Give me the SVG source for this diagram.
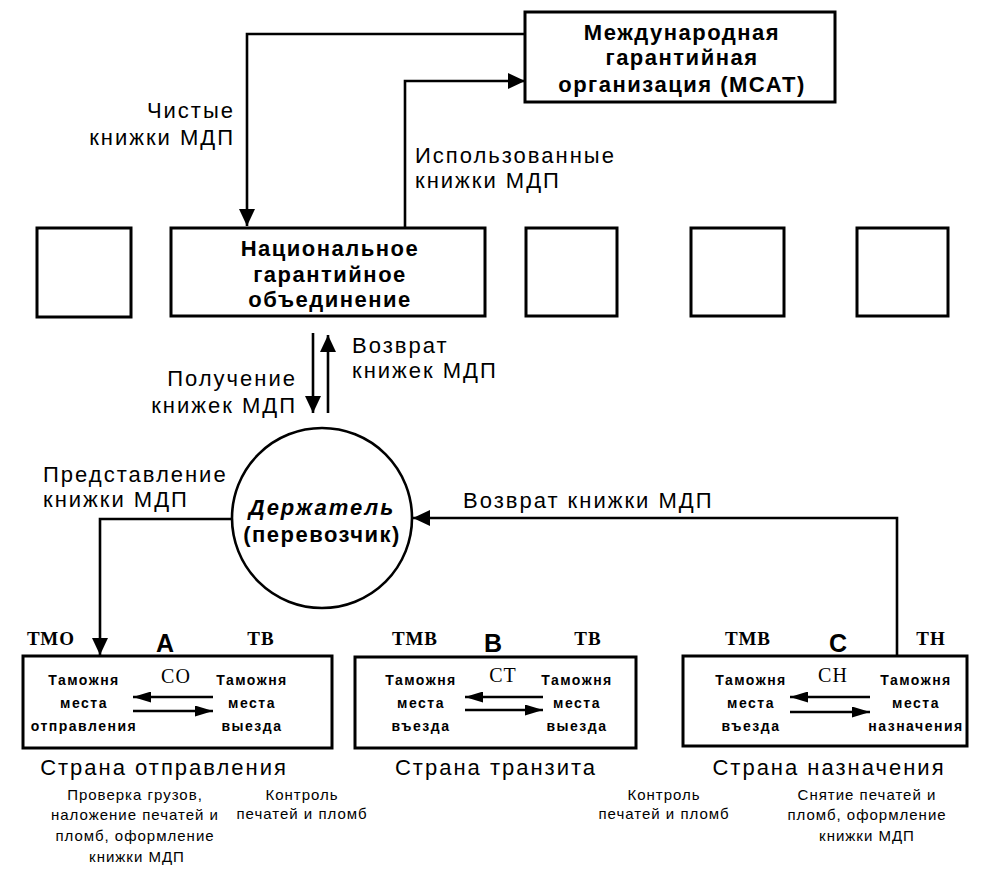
<svg xmlns="http://www.w3.org/2000/svg" width="998" height="871" viewBox="0 0 998 871">
<defs>
<style>
.box{fill:#fff;stroke:#000;stroke-width:3}
.ln{fill:none;stroke:#000;stroke-width:2.6}
.t22{font-family:"Liberation Sans",Arial,sans-serif;font-size:22px;letter-spacing:2px;fill:#000}
.b22{font-family:"Liberation Sans",Arial,sans-serif;font-size:22px;font-weight:bold;letter-spacing:1.5px;fill:#000}
.bi22{font-family:"Liberation Sans",Arial,sans-serif;font-size:22px;font-weight:bold;font-style:italic;letter-spacing:2px;fill:#000}
.s15{font-family:"Liberation Sans",Arial,sans-serif;font-size:15px;letter-spacing:1px;fill:#000}
.in14{font-family:"Liberation Sans",Arial,sans-serif;font-size:14px;font-weight:bold;letter-spacing:1.5px;fill:#000}
.ser{font-family:"Liberation Serif","Times New Roman",serif;font-size:19px;font-weight:bold;letter-spacing:1px;fill:#000}
.ser2{font-family:"Liberation Serif","Times New Roman",serif;font-size:20px;letter-spacing:1px;fill:#000}
.let{font-family:"Liberation Sans",Arial,sans-serif;font-size:25px;font-weight:bold;fill:#000}
.m{text-anchor:middle}
.e{text-anchor:end}
</style>
<marker id="ah" markerUnits="userSpaceOnUse" markerWidth="17" markerHeight="16" refX="17" refY="8" orient="auto"><path d="M0,0 L17,8 L0,16 z" fill="#000"/></marker>
<marker id="ahs" markerUnits="userSpaceOnUse" markerWidth="18" markerHeight="11" refX="18" refY="5.5" orient="auto"><path d="M0,0 L18,5.5 L0,11 z" fill="#000"/></marker>
</defs>
<rect width="998" height="871" fill="#fff"/>

<g id="mcat">
<rect class="box" x="525" y="12" width="310" height="90"/>
<text class="b22 m" x="682" y="40">Международная</text>
<text class="b22 m" x="682" y="65">гарантийная</text>
<text class="b22 m" x="682" y="92">организация (МСАТ)</text>
</g>

<g id="ngo">
<rect class="box" x="171" y="228" width="314" height="88"/>
<text class="b22 m" x="330" y="256">Национальное</text>
<text class="b22 m" x="330" y="282">гарантийное</text>
<text class="b22 m" x="330" y="307">объединение</text>
</g>

<g id="ngo-other-1"><rect class="box" x="37" y="228" width="94" height="89"/></g>
<g id="ngo-other-2"><rect class="box" x="526" y="228" width="91" height="88"/></g>
<g id="ngo-other-3"><rect class="box" x="691" y="228" width="93" height="88"/></g>
<g id="ngo-other-4"><rect class="box" x="857" y="228" width="91" height="88"/></g>

<g id="holder">
<circle cx="322" cy="518" r="90" fill="#fff" stroke="#000" stroke-width="2.6"/>
<text class="bi22 m" x="322" y="515">Держатель</text>
<text class="b22 m" x="322" y="542">(перевозчик)</text>
</g>

<g id="country-a">
<rect class="box" x="23" y="656" width="309" height="92"/>
<text class="ser m" x="51" y="645">ТМО</text>
<text class="let m" x="165" y="652">А</text>
<text class="ser m" x="261" y="645">ТВ</text>
<text class="ser2 m" x="176" y="683">СО</text>
<text class="in14 m" x="84" y="685">Таможня</text>
<text class="in14 m" x="84" y="708">места</text>
<text class="in14 m" x="84" y="731">отправления</text>
<text class="in14 m" x="252" y="685">Таможня</text>
<text class="in14 m" x="252" y="708">места</text>
<text class="in14 m" x="252" y="731">выезда</text>
<text class="t22 m" x="164" y="775">Страна отправления</text>
</g>

<g id="country-b">
<rect class="box" x="355" y="657" width="281" height="91"/>
<text class="ser m" x="415" y="645">ТМВ</text>
<text class="let m" x="493" y="652">В</text>
<text class="ser m" x="588" y="645">ТВ</text>
<text class="ser2 m" x="503" y="682">СТ</text>
<text class="in14 m" x="421" y="685">Таможня</text>
<text class="in14 m" x="421" y="708">места</text>
<text class="in14 m" x="421" y="731">въезда</text>
<text class="in14 m" x="577" y="685">Таможня</text>
<text class="in14 m" x="577" y="708">места</text>
<text class="in14 m" x="577" y="731">выезда</text>
<text class="t22 m" x="496" y="775">Страна транзита</text>
</g>

<g id="country-c">
<rect class="box" x="683" y="656" width="284" height="90"/>
<text class="ser m" x="748" y="645">ТМВ</text>
<text class="let m" x="838" y="652">С</text>
<text class="ser m" x="931" y="645">ТН</text>
<text class="ser2 m" x="833" y="682">СН</text>
<text class="in14 m" x="751" y="685">Таможня</text>
<text class="in14 m" x="751" y="708">места</text>
<text class="in14 m" x="751" y="731">въезда</text>
<text class="in14 m" x="916" y="685">Таможня</text>
<text class="in14 m" x="916" y="708">места</text>
<text class="in14 m" x="916" y="731">назначения</text>
<text class="t22 m" x="829" y="775">Страна назначения</text>
</g>

<g id="connectors">
<path class="ln" d="M525,34 H247 V226" marker-end="url(#ah)"/>
<path class="ln" d="M405,228 V81 H525" marker-end="url(#ah)"/>
<path class="ln" d="M313,333 V413" marker-end="url(#ah)"/>
<path class="ln" d="M328,413 V335" marker-end="url(#ah)"/>
<path class="ln" d="M232,519 H100 V655" marker-end="url(#ah)"/>
<path class="ln" d="M897,656 V518 H413" marker-end="url(#ah)"/>
<path class="ln" stroke-width="3" d="M213,697 H133" marker-end="url(#ahs)"/>
<path class="ln" stroke-width="3" d="M133,711 H213" marker-end="url(#ahs)"/>
<path class="ln" stroke-width="3" d="M543,697 H465" marker-end="url(#ahs)"/>
<path class="ln" stroke-width="3" d="M465,710 H543" marker-end="url(#ahs)"/>
<path class="ln" stroke-width="3" d="M870,697 H790" marker-end="url(#ahs)"/>
<path class="ln" stroke-width="3" d="M790,712 H870" marker-end="url(#ahs)"/>
</g>

<g id="labels">
<text class="t22 e" x="235" y="118">Чистые</text>
<text class="t22 e" x="235" y="145">книжки МДП</text>
<text class="t22" x="415" y="163">Использованные</text>
<text class="t22" x="415" y="188">книжки МДП</text>
<text class="t22" x="352" y="353">Возврат</text>
<text class="t22" x="352" y="378">книжек МДП</text>
<text class="t22 e" x="297" y="386">Получение</text>
<text class="t22 e" x="297" y="413">книжек МДП</text>
<text class="t22" x="43" y="482">Представление</text>
<text class="t22" x="43" y="507">книжки МДП</text>
<text class="t22" x="463" y="508">Возврат книжки МДП</text>
<text class="s15 m" x="135" y="800">Проверка грузов,</text>
<text class="s15 m" x="135" y="820">наложение печатей и</text>
<text class="s15 m" x="135" y="841">пломб, оформление</text>
<text class="s15 m" x="137" y="862">книжки МДП</text>
<text class="s15 m" x="302" y="800">Контроль</text>
<text class="s15 m" x="302" y="819">печатей и пломб</text>
<text class="s15 m" x="664" y="800">Контроль</text>
<text class="s15 m" x="664" y="819">печатей и пломб</text>
<text class="s15 m" x="867" y="800">Снятие печатей и</text>
<text class="s15 m" x="867" y="820">пломб, оформление</text>
<text class="s15 m" x="867" y="841">книжки МДП</text>
</g>
</svg>
